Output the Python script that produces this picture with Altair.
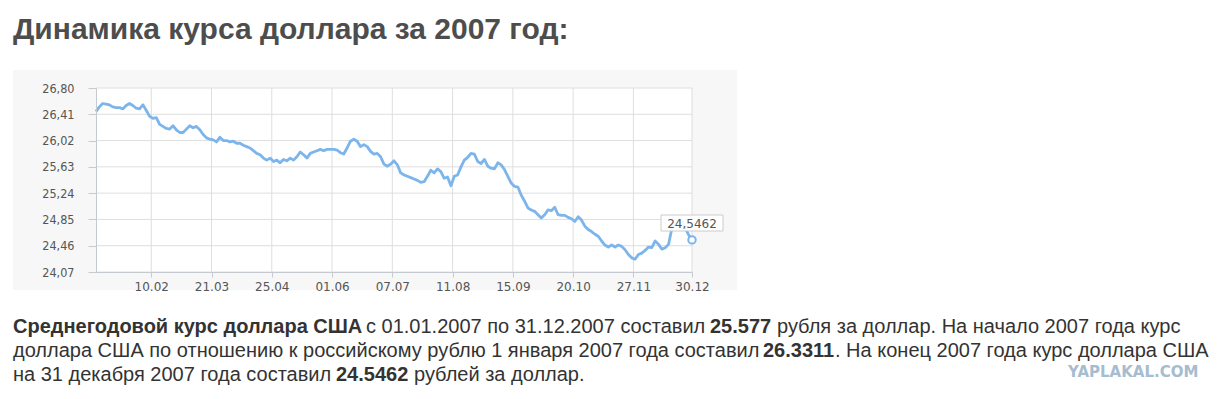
import altair as alt
import pandas as pd

# ---------------- data ----------------
title_text = "Динамика курса доллара за 2007 год:"

rates = [
    26.45, 26.52, 26.57, 26.56, 26.55, 26.52, 26.51, 26.51, 26.49, 26.54,
    26.57, 26.54, 26.50, 26.49, 26.55, 26.47, 26.38, 26.35, 26.36, 26.26,
    26.23, 26.20, 26.19, 26.24, 26.18, 26.14, 26.14, 26.19, 26.24, 26.21,
    26.23, 26.18, 26.11, 26.06, 26.04, 26.03, 26.00, 26.07, 26.02, 26.02,
    26.00, 26.01, 25.98, 25.98, 25.95, 25.93, 25.91, 25.87, 25.83, 25.81,
    25.76, 25.73, 25.76, 25.71, 25.73, 25.69, 25.74, 25.72, 25.76, 25.73,
    25.78, 25.85, 25.81, 25.76, 25.83, 25.85, 25.87, 25.89, 25.87, 25.89,
    25.89, 25.89, 25.88, 25.84, 25.82, 25.91, 26.01, 26.04, 26.01, 25.93,
    25.96, 25.93, 25.86, 25.82, 25.83, 25.78, 25.67, 25.64, 25.67, 25.72,
    25.66, 25.54, 25.51, 25.49, 25.47, 25.45, 25.43, 25.40, 25.41, 25.49,
    25.58, 25.54, 25.60, 25.56, 25.46, 25.48, 25.35, 25.49, 25.51, 25.63,
    25.73, 25.77, 25.83, 25.82, 25.71, 25.68, 25.74, 25.64, 25.61, 25.60,
    25.69, 25.66, 25.59, 25.49, 25.39, 25.34, 25.33, 25.21, 25.12, 25.02,
    24.99, 24.97, 24.92, 24.87, 24.92, 24.99, 24.98, 25.03, 24.92, 24.91,
    24.91, 24.88, 24.86, 24.82, 24.89, 24.84, 24.75, 24.70, 24.67, 24.63,
    24.60, 24.53, 24.47, 24.44, 24.47, 24.44, 24.47, 24.45, 24.40, 24.33,
    24.28, 24.26, 24.33, 24.35, 24.39, 24.44, 24.43, 24.53, 24.48, 24.41,
    24.43, 24.48, 24.72, 24.80, 24.84, 24.82, 24.72, 24.62, 24.5462,
]

tick_pos = [16.5, 34.5, 52.5, 70.5, 88.5, 106.5, 124.5, 142.5, 160.5, 178]
tick_labels = ["10.02", "21.03", "25.04", "01.06", "07.07",
               "11.08", "15.09", "20.10", "27.11", "30.12"]
y_ticks = [24.07, 24.46, 24.85, 25.24, 25.63, 26.02, 26.41, 26.80]

line1 = ["Среднегодовой курс доллара США", "с 01.01.2007 по 31.12.2007 составил",
         "25.577", "рубля за доллар. На начало 2007 года курс"]
line2 = ["доллара США по отношению к российскому рублю 1 января 2007 года составил",
         "26.3311", ". На конец 2007 года курс доллара США"]
line3 = ["на 31 декабря 2007 года составил", "24.5462", "рублей за доллар."]
watermark = "YAPLAKAL.COM"

# ---------------- chart ----------------
df = pd.DataFrame({"obs": list(range(len(rates))), "rate": rates})
last = df.tail(1).copy()
last["lbl"] = last["rate"].map(lambda v: f"{v:.4f}".replace(".", ","))

W, H = 596, 184
LINE_COLOR = "#7cb5ec"
GRID = "#dedede"
AXIS = "#c4cad0"

xscale = alt.Scale(domain=[0, len(rates) - 1], nice=False, zero=False)
yscale = alt.Scale(domain=[y_ticks[0], y_ticks[-1]], nice=False, zero=False)

x_label_expr = "[" + ",".join(f"'{l}'" for l in tick_labels) + "][indexof([" + \
    ",".join(str(p) for p in tick_pos) + "], datum.value)]"
y_label_expr = "replace(format(datum.value, '.2f'), '.', ',')"

x_axis = alt.Axis(
    values=tick_pos, labelExpr=x_label_expr, grid=False, title=None,
    domainColor=AXIS, tickColor=AXIS, tickSize=5, labelPadding=4,
    labelFont="DejaVu Sans", labelFontSize=12, labelColor="#555555",
    labelFlush=False, labelOverlap=False, zindex=1)
y_axis = alt.Axis(
    values=y_ticks, labelExpr=y_label_expr, grid=False, title=None,
    domainColor=AXIS, tickColor=AXIS, tickSize=8, labelPadding=14,
    labelFont="Liberation Sans Narrow, DejaVu Sans Condensed, Liberation Sans",
    labelFontSize=12.5, labelColor="#555555", labelOverlap=False, zindex=1)

one = pd.DataFrame({"a": [0]})


def box(x, x2, y, y2, **kw):
    return alt.Chart(one).mark_rect(**kw).encode(
        x=alt.value(x), x2=alt.value(x2), y=alt.value(y), y2=alt.value(y2))


def txt(s, x, y, size, weight="normal", color="#333333", font="Liberation Sans", align="left"):
    return alt.Chart(pd.DataFrame({"t": [s]})).mark_text(
        align=align, baseline="alphabetic", font=font, fontSize=size,
        fontWeight=weight, color=color).encode(
        x=alt.value(x), y=alt.value(y), text="t:N")


panel = box(-83, 641, -18, 202, fill="#f7f7f7")
plotbg = box(0, W, 0, H, fill="white")

ygrid = alt.Chart(pd.DataFrame({"rate": y_ticks})).mark_rule(color=GRID, strokeWidth=1).encode(
    y=alt.Y("rate:Q", scale=yscale, axis=y_axis))
xgrid = alt.Chart(pd.DataFrame({"obs": tick_pos})).mark_rule(color=GRID, strokeWidth=1).encode(
    x=alt.X("obs:Q", scale=xscale, axis=x_axis))

line = alt.Chart(df).mark_line(color=LINE_COLOR, strokeWidth=2.8, strokeJoin="round").encode(
    x=alt.X("obs:Q", scale=xscale, axis=x_axis),
    y=alt.Y("rate:Q", scale=yscale, axis=y_axis),
)

tip_box = box(565, 627, 127, 143, fill="white", fillOpacity=0.9, stroke="#cccccc", strokeWidth=1)
tip_text = alt.Chart(last).mark_text(
    align="center", baseline="alphabetic", font="DejaVu Sans", fontSize=12, color="#555555"
).encode(x=alt.value(596), y=alt.value(139.5), text="lbl:N")
dot = alt.Chart(last).mark_point(
    shape="circle", size=55, fill="white", fillOpacity=1, stroke=LINE_COLOR,
    strokeWidth=2, opacity=1).encode(
    x=alt.X("obs:Q", scale=xscale, axis=x_axis),
    y=alt.Y("rate:Q", scale=yscale, axis=y_axis))

title = txt(title_text, -83, -49, 30, weight="bold", color="#4d4d4d")

L1, L2, L3 = 245, 269, 293
body = [
    txt(line1[0], -83, L1, 20, "bold"),
    txt(line1[1], 270, L1, 20),
    txt(line1[2], 614, L1, 20, "bold"),
    txt(line1[3], 681, L1, 20),
    txt(line2[0], -83, L2, 20),
    txt(line2[1], 667, L2, 20, "bold"),
    txt(line2[2], 739, L2, 20),
    txt(line3[0], -83, L3, 20),
    txt(line3[1], 240, L3, 20, "bold"),
    txt(line3[2], 318, L3, 20),
]
wm = txt(watermark, 972, 289, 15, weight="bold", color="#a6bccf", font="DejaVu Sans")

chart = alt.layer(
    panel, plotbg, ygrid, xgrid, line, tip_box, tip_text, dot, title, *body, wm
).properties(
    width=W, height=H,
    autosize=alt.AutoSizeParams(type="none"),
    padding={"left": 96, "top": 88, "right": 537, "bottom": 127},
    background="white",
).configure_view(strokeWidth=0)

chart.save("out.html", embed_options={"renderer": "svg", "actions": False})
